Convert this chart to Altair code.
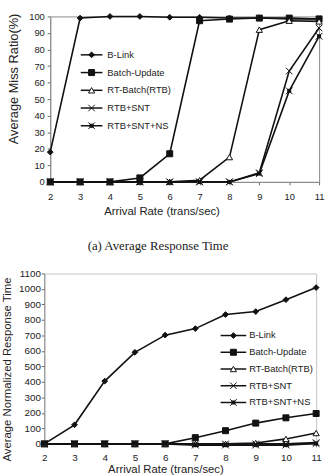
import altair as alt
import pandas as pd

# ---- data -------------------------------------------------------------
rates = [2, 3, 4, 5, 6, 7, 8, 9, 10, 11]
series_names = ["B-Link", "Batch-Update", "RT-Batch(RTB)", "RTB+SNT", "RTB+SNT+NS"]

# Average miss ratio (%)
miss_blink = [18, 99, 100, 100, 99.5, 99.5, 99, 99, 98.5, 98.5]
miss_batch = [0, 0, 0, 2.4, 17, 97.4, 98.4, 99, 99, 98.5]
miss_rtb = [0, 0, 0, 0, 0, 1, 15, 92, 97.4, 97]
miss_snt = [0, 0, 0, 0, 0, 0, 0, 5.5, 67, 93]
miss_ns = [0, 0, 0, 0, 0, 0, 0, 5, 55, 88]

# Average normalized response time
resp_blink = [0, 123, 405, 591, 702, 744, 835, 854, 931, 1009]
resp_batch = [0, 0, 0, 0, 0, 40, 85, 134, 168, 196]
resp_rtb = [0, 0, 0, 0, 0, 0, 0, 5, 32, 70]
resp_snt = [0, 0, 0, 0, 0, 0, 0, 0, 0, 8]
resp_ns = [0, 0, 0, 0, 0, -8, -8, -8, -8, 2]

x_ticks = [2, 3, 4, 5, 6, 7, 8, 9, 10, 11]
miss_ticks = [0, 10, 20, 30, 40, 50, 60, 70, 80, 90, 100]
resp_ticks = [0, 100, 200, 300, 400, 500, 600, 700, 800, 900, 1000, 1100]


def long_frame(cols):
    rows = []
    for name, vals in zip(series_names, cols):
        for r, v in zip(rates, vals):
            rows.append({"rate": r, "value": v, "series": name})
    return pd.DataFrame(rows)


miss_df = long_frame([miss_blink, miss_batch, miss_rtb, miss_snt, miss_ns])
resp_df = long_frame([resp_blink, resp_batch, resp_rtb, resp_snt, resp_ns])
legend_df = pd.DataFrame({"series": series_names, "row": list(range(len(series_names)))})

# ---- styling ----------------------------------------------------------
INK = "#111111"
FONT = "Liberation Sans"
shape_scale = alt.Scale(
    domain=series_names,
    range=[
        "diamond",
        "square",
        "triangle-up",
        "M-1,-1L1,1M-1,1L1,-1",
        "M-1,-1L1,1M-1,1L1,-1M-0.45,-0.45H0.45V0.45H-0.45Z",
    ],
)
fill_scale = alt.Scale(domain=series_names, range=[INK, INK, "white", INK, INK])
size_scale = alt.Scale(domain=series_names, range=[34, 46, 40, 40, 44])


def marker_encoding():
    return dict(
        shape=alt.Shape("series:N", scale=shape_scale, legend=None),
        fill=alt.Fill("series:N", scale=fill_scale, legend=None),
        size=alt.Size("series:N", scale=size_scale, legend=None),
    )


def panel(df, y_domain, y_ticks, y_title, w, h, label_size, y_title_size,
          x_title_pos, y_title_pos, x_label_pad, y_label_pad,
          leg_y0, leg_step, leg_line, leg_marker, leg_text, frame_color):
    x_axis = alt.Axis(
        values=x_ticks, tickCount=len(x_ticks), title="Arrival Rate (trans/sec)",
        grid=False, labelFontSize=label_size, labelPadding=x_label_pad, tickSize=3,
        labelOverlap=False, labelFlush=False, format="d",
        titleX=x_title_pos[0], titleY=x_title_pos[1], titleBaseline="middle",
        titleFontSize=11.5,
    )
    y_axis = alt.Axis(
        values=y_ticks, tickCount=len(y_ticks), title=y_title, grid=False,
        labelFontSize=label_size, labelPadding=y_label_pad, tickSize=3,
        labelOverlap=False, labelFlush=False, format="d",
        titleX=y_title_pos[0], titleY=y_title_pos[1], titleBaseline="middle",
        titleFontSize=y_title_size,
    )
    x_scale = alt.Scale(domain=[2, 11], nice=False, zero=False)
    y_scale = alt.Scale(domain=y_domain, nice=False, zero=False)

    def xy():
        return dict(
            x=alt.X("rate:Q", scale=x_scale, axis=x_axis),
            y=alt.Y("value:Q", scale=y_scale, axis=y_axis),
        )

    base = alt.Chart(df)
    lines = base.mark_line(color=INK, strokeWidth=1.6).encode(
        detail="series:N", **xy()
    )
    points = base.mark_point(filled=True, stroke=INK, strokeWidth=1, opacity=1).encode(
        **xy(), **marker_encoding()
    )
    data_layer = alt.layer(lines, points)

    # in-plot legend: a short line with the series marker, then the name
    leg = alt.Chart(legend_df).transform_calculate(
        ly=f"{leg_y0} + datum.row * {leg_step}"
    )
    ly = alt.Y("ly:Q", scale=None, axis=None)
    leg_rule = leg.mark_rule(color=INK, strokeWidth=1.5).encode(
        x=alt.value(leg_line[0]), x2=alt.value(leg_line[1]), y=ly
    )
    leg_pts = leg.mark_point(filled=True, stroke=INK, strokeWidth=1, opacity=1).encode(
        x=alt.value(leg_marker), y=ly, **marker_encoding()
    )
    leg_txt = leg.mark_text(
        align="left", baseline="middle", font=FONT, fontSize=9.5, color="#222"
    ).encode(x=alt.value(leg_text), y=ly, text="series:N")
    legend_layer = alt.layer(leg_rule, leg_pts, leg_txt)

    return (
        alt.layer(data_layer, legend_layer)
        .resolve_scale(y="independent")
        .properties(
            width=w, height=h,
            view=alt.ViewBackground(stroke=frame_color, strokeWidth=1),
        )
    )


top = panel(
    miss_df, [0, 100], miss_ticks, "Average Miss Ratio(%)", 273, 168, 9.5, 13,
    (113, 30), (-37, 63), 7, 3,
    39, 18, (31, 53), 42, 58, "#8a8a8a",
).properties(
    title=alt.TitleParams(
        "(a) Average Response Time", orient="bottom", anchor="middle",
        frame="group", dx=-27, offset=24, font="Liberation Serif",
        fontSize=13, fontWeight="normal", color="#222",
    )
)

bottom = panel(
    resp_df, [0, 1100], resp_ticks, "Average Normalized Response Time", 276, 173,
    10, 11.5,
    (123, 26), (-37, 97), 6, 1,
    63, 17, (179, 205), 192, 208, "#c4c4c4",
)

# narrow blank column that sets the upper panel a little to the right
spacer = alt.Chart(pd.DataFrame({"v": [0]})).mark_point(opacity=0).properties(
    width=1, height=1
)

chart = (
    alt.vconcat(
        alt.hconcat(spacer, top, spacing=5, bounds="flush"),
        bottom,
        spacing=14,
    )
    .properties(padding={"left": 1, "top": 7, "right": 0, "bottom": 0})
    .configure(font=FONT)
    .configure_view(stroke="transparent")
    .configure_axis(
        labelFont=FONT, titleFont=FONT, labelColor="#222", titleColor="#222",
        titleFontWeight="normal", domainColor="#8a8a8a", tickColor="#666",
    )
)

chart.save("out.html", embed_options={"renderer": "svg", "actions": False})
